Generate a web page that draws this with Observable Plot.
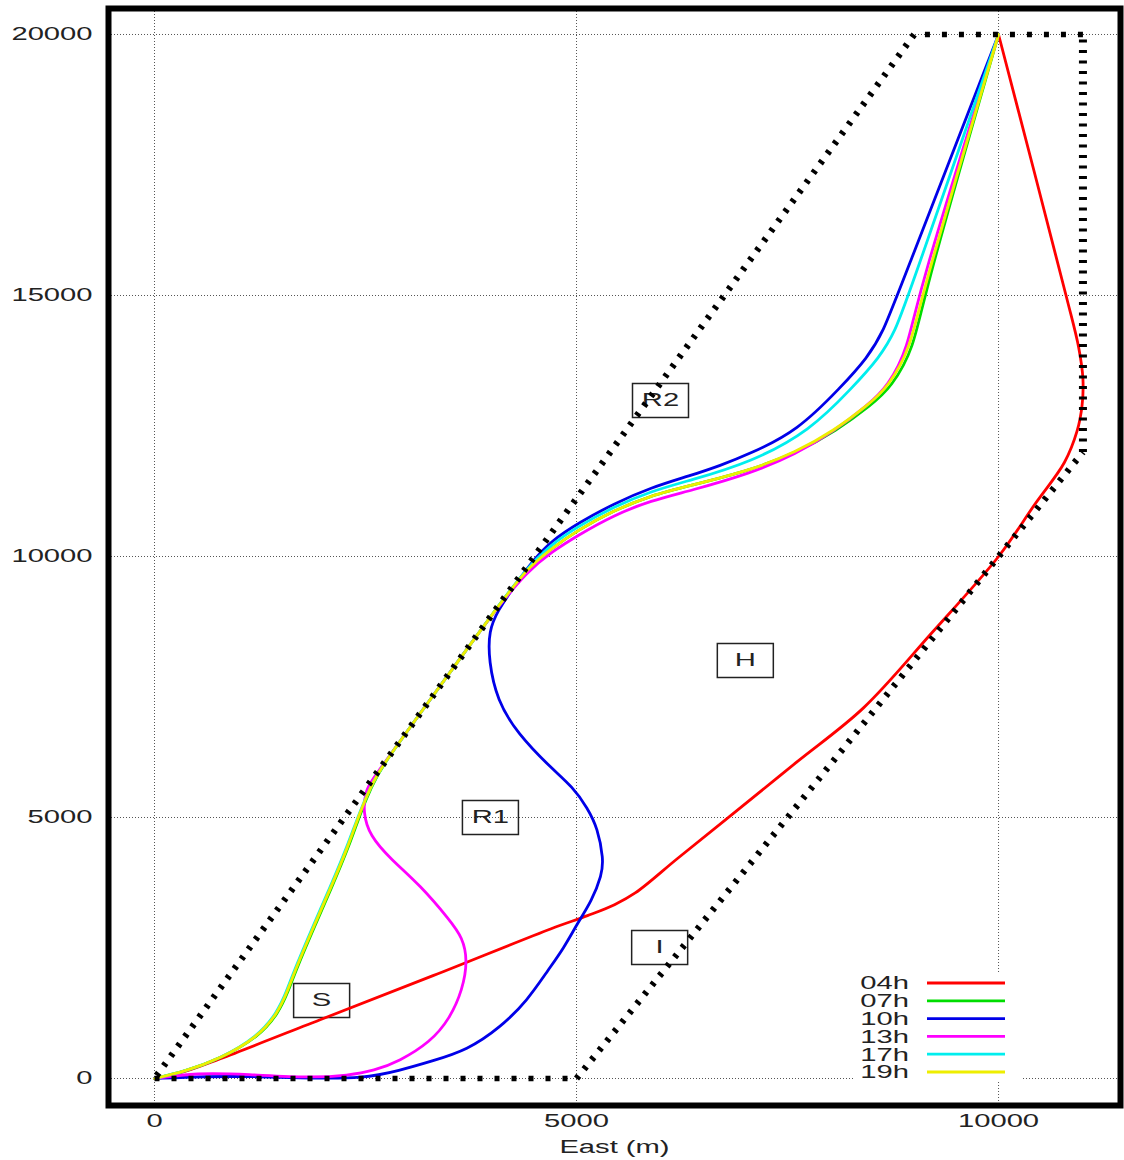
<!DOCTYPE html>
<html>
<head>
<meta charset="utf-8">
<script src="https://cdn.jsdelivr.net/npm/d3@7"></script>
<script src="https://cdn.jsdelivr.net/npm/@observablehq/plot@0.6"></script>
<style>
  html, body { margin: 0; padding: 0; background: #fff; }
  #chart { width: 1124px; height: 1160px; }
</style>
</head>
<body>
<div id="chart"></div>
<script>
// Series: hour of day, colour
const hours = ["04h", "07h", "10h", "13h", "17h", "19h"];
const colors = ["#ff0000", "#00dd00", "#0000e8", "#ff00ff", "#00eeee", "#eeee00"];

// Trajectories as [east, north] in metres
const track04 = [[0,0],[350,130],[780,380],[2000,1150],[3300,1970],[4700,2870],[5130,3120],[5450,3330],[5700,3560],[6200,4220],[6830,5040],[7600,6050],[8400,7100],[9200,8520],[10000,10000],[10430,11000],[10780,11800],[10930,12400],[10990,12900],[11000,13400],[10950,14000],[10800,15000],[10000,20000]];
const track07 = [[0,0],[350,130],[780,380],[1230,790],[1470,1250],[1590,1690],[1660,2010],[1860,2780],[2100,3660],[2300,4430],[2450,5130],[2570,5580],[2680,5950],[3150,7000],[3600,8000],[4050,9000],[4400,9750],[4700,10150],[5010,10500],[5440,10880],[5880,11170],[6350,11360],[7060,11650],[7620,12000],[8080,12410],[8490,12900],[8730,13240],[9000,14000],[9111,15000],[10000,20000]];
const track10 = [[0,0],[600,40],[1200,40],[1850,5],[2470,0],[2900,150],[3300,340],[3700,540],[4100,980],[4420,1500],[4660,2070],[4850,2500],[5010,2970],[5180,3400],[5300,3900],[5320,4200],[5250,4800],[5130,5180],[4960,5580],[4690,5960],[4300,6610],[4060,7240],[3960,8000],[3960,8580],[4070,8970],[4250,9400],[4470,9900],[4700,10300],[5030,10650],[5440,11010],[5880,11320],[6350,11550],[6700,11740],[7060,11970],[7620,12410],[8130,13240],[8450,13810],[8640,14330],[8800,15000],[10000,20000]];
const track13 = [[0,0],[500,110],[1100,80],[1850,10],[2300,60],[2600,150],[2900,330],[3270,700],[3500,1150],[3650,1700],[3710,2260],[3650,2700],[3500,3030],[3150,3700],[2800,4200],[2550,4650],[2470,5100],[2500,5520],[2580,5720],[2680,5950],[3150,7000],[3600,8000],[4050,9000],[4420,9720],[4700,10080],[5010,10400],[5440,10790],[5880,11070],[6350,11260],[7060,11590],[7600,11960],[8050,12400],[8450,12900],[8690,13260],[8930,14000],[9037,15000],[10000,20000]];
const track17 = [[0,0],[350,130],[780,380],[1210,790],[1450,1250],[1570,1690],[1640,2010],[1840,2780],[2080,3660],[2280,4430],[2435,5130],[2560,5580],[2680,5950],[3150,7000],[3600,8000],[4050,9000],[4400,9760],[4700,10230],[5010,10570],[5440,10950],[5880,11250],[6350,11460],[7060,11800],[7770,12410],[8270,13240],[8590,13810],[8780,14330],[8934,15000],[10000,20000]];
const track19 = [[0,0],[350,130],[780,380],[1220,790],[1460,1250],[1580,1690],[1650,2010],[1850,2780],[2090,3660],[2290,4430],[2440,5130],[2560,5580],[2680,5950],[3150,7000],[3600,8000],[4050,9000],[4400,9750],[4700,10150],[5010,10500],[5440,10880],[5880,11170],[6350,11360],[7060,11650],[7600,12000],[8050,12410],[8450,12900],[8690,13240],[8960,14000],[9084,15000],[10000,20000]];
const tracks = [track04, track07, track10, track13, track17, track19];

// Domain boundary vertices [east, north]
const boundary = [[0,0],[5000,0],[11000,12000],[11000,20000],[9000,20000],[0,0]];

// Region labels
const zones = ["R2", "H", "R1", "I", "S"];
const zoneEast = [5995, 7000, 3980, 5985, 1980];
const zoneNorth = [12990, 8010, 5000, 2510, 1495];

// Axes
const xTicks = [0, 5000, 10000];
const yTicks = [0, 5000, 10000, 15000, 20000];
const xLabel = "East (m)";

const rows = hours.flatMap((h, i) => tracks[i].map(([e, n]) => ({hour: h, east: e, north: n})));
const edges = boundary.slice(1).map((p, i) => ({x1: boundary[i][0], y1: boundary[i][1], x2: p[0], y2: p[1]}));
const zoneRows = zones.map((z, i) => ({name: z, east: zoneEast[i], north: zoneNorth[i]}));

// Edge styling by orientation: horizontal, vertical, slanted
function edgeStyle(e) {
  if (e.y1 === e.y2) return {strokeWidth: 5.5, strokeDasharray: "5,12"};
  if (e.x1 === e.x2) return {strokeWidth: 8, strokeDasharray: "3,7.5"};
  return {strokeWidth: 6.5, strokeDasharray: "3.5,8.5"};
}

// Rectangular outline used for region labels
const boxSymbol = {draw(ctx) { ctx.moveTo(-28, -17); ctx.lineTo(28, -17); ctx.lineTo(28, 17); ctx.lineTo(-28, 17); ctx.closePath(); }};

function legend(index, scales, values, dims) {
  const right = dims.width - dims.marginRight;
  const bottom = dims.height - dims.marginBottom;
  const g = d3.create("svg:g");
  g.append("rect").attr("x", right - 265).attr("y", bottom - 133).attr("width", 167).attr("height", 110).attr("fill", "white");
  hours.forEach((h, i) => {
    const y = bottom - 122 + i * 17.8;
    g.append("text").attr("x", right - 211).attr("y", y).attr("dy", "0.36em")
      .attr("text-anchor", "end").attr("fill", "#222").attr("font-size", 18).text(h);
    g.append("line").attr("x1", right - 193).attr("x2", right - 115).attr("y1", y).attr("y2", y)
      .attr("stroke", colors[i]).attr("stroke-width", 2.8);
  });
  return g.node();
}

const lineMarks = hours.map((h, i) => Plot.line(rows.filter(d => d.hour === h), {
  x: "east", y: "north", stroke: colors[i], strokeWidth: 2.8,
  curve: i === 0 ? "catmull-rom" : "basis"
}));

const edgeMarks = edges.map(e => Plot.link([e], {x1: "x1", y1: "y1", x2: "x2", y2: "y2", stroke: "black", ...edgeStyle(e)}));

const chart = Plot.plot({
  width: 1124,
  height: 1160,
  marginLeft: 108,
  marginRight: 4,
  marginTop: 8,
  marginBottom: 55,
  style: {fontFamily: "'Liberation Sans', Arial, sans-serif", fontSize: "18px", background: "white", color: "#222"},
  x: {domain: [-545, 11445], label: null},
  y: {domain: [-517, 20498], label: null},
  marks: [
    Plot.gridX(xTicks, {stroke: "#555", strokeOpacity: 1, strokeDasharray: "1,2"}),
    Plot.gridY(yTicks, {stroke: "#555", strokeOpacity: 1, strokeDasharray: "1,2"}),
    Plot.axisX(xTicks, {tickSize: 0, tickPadding: 9, tickFormat: d3.format("d"), fontSize: 18, label: null}),
    Plot.axisY(yTicks, {tickSize: 0, tickPadding: 16, tickFormat: d3.format("d"), fontSize: 18, label: null}),
    Plot.text([xLabel], {frameAnchor: "bottom", dy: 47, fontSize: 18, fill: "#222"}),
    Plot.dot(zoneRows, {x: "east", y: "north", symbol: boxSymbol, r: 10, stroke: "#222", strokeWidth: 1.5, fill: "none"}),
    Plot.text(zoneRows, {x: "east", y: "north", text: "name", fontSize: 18, fill: "#222"}),
    ...lineMarks,
    ...edgeMarks,
    legend,
    Plot.frame({stroke: "black", strokeWidth: 6})
  ]
});

document.getElementById("chart").appendChild(chart);

// Widen the glyphs horizontally, as in the printed figure
chart.querySelectorAll("text").forEach(t => {
  const w = t.getComputedTextLength();
  if (w > 0) {
    t.setAttribute("textLength", (w * 1.62).toFixed(1));
    t.setAttribute("lengthAdjust", "spacingAndGlyphs");
  }
});
</script>
</body>
</html>
